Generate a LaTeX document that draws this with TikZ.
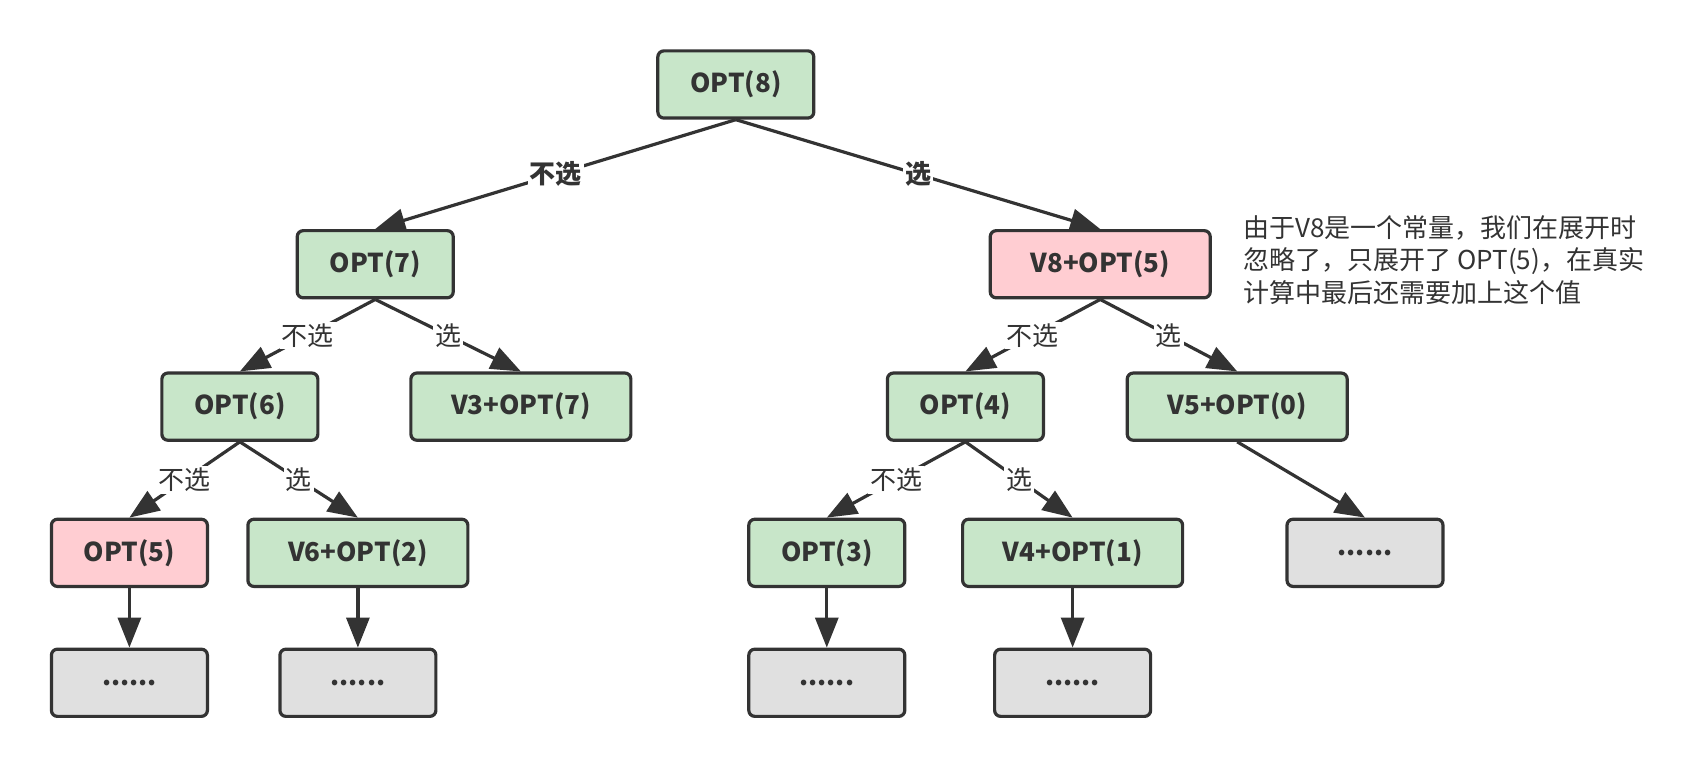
\documentclass[tikz,border=0pt]{standalone}
\usepackage{fontspec}
\setmainfont{Noto Sans CJK SC}
\usetikzlibrary{arrows.meta}
\definecolor{boxgreen}{HTML}{C8E6C9}
\definecolor{boxpink}{HTML}{FFCDD2}
\definecolor{boxgray}{HTML}{E0E0E0}
\definecolor{linedark}{HTML}{333333}
\tikzset{
  optbox/.style={draw=linedark, line width=1.6pt, rounded corners=3pt, fill=boxgreen,
    minimum width=78pt, minimum height=33.6pt, font=\fontsize{13pt}{15pt}\selectfont\bfseries, text=linedark},
  widebox/.style={optbox, minimum width=110pt},
  skipbox/.style={optbox, fill=boxpink},
  dotsbox/.style={optbox, fill=boxgray},
  branch/.style={draw=linedark, line width=1.6pt, -{Triangle[length=15pt,width=11.5pt]}},
  choice/.style={fill=white, inner sep=1pt, text=linedark, font=\fontsize{13pt}{15pt}\selectfont},
  bigchoice/.style={choice, font=\fontsize{13pt}{15pt}\selectfont\bfseries}
}

\begin{document}
\begin{tikzpicture}[x=0.5415pt, y=-0.5415pt]
  \useasboundingbox (0,0) rectangle (1568,709.2);
  \node[optbox]  (opt8)  at (679.5,78)   {OPT(8)};
  \node[optbox]  (opt7)  at (346.5,244)  {OPT(7)};
  \node[widebox, fill=boxpink] (v8) at (1016,244) {V8+OPT(5)};
  \node[optbox]  (opt6)  at (221.5,375.5) {OPT(6)};
  \node[widebox] (v3)    at (481,375.5)  {V3+OPT(7)};
  \node[optbox]  (opt4)  at (891.5,375.5) {OPT(4)};
  \node[widebox] (v5)    at (1142.5,375.5) {V5+OPT(0)};
  \node[skipbox] (opt5)  at (119.5,510.5) {OPT(5)};
  \node[widebox] (v6)    at (330.5,510.5) {V6+OPT(2)};
  \node[optbox]  (opt3)  at (763.5,510.5) {OPT(3)};
  \node[widebox] (v4)    at (990.5,510.5) {V4+OPT(1)};
  \node[dotsbox] (dots5) at (1260.5,510.5) {......};
  \node[dotsbox] (dots1) at (119.5,630.5) {......};
  \node[dotsbox] (dots2) at (330.5,630.5) {......};
  \node[dotsbox] (dots3) at (763.5,630.5) {......};
  \node[dotsbox] (dots4) at (990.5,630.5) {......};

  \draw[branch] (opt8.south) -- node[bigchoice] {不选} (opt7.north);
  \draw[branch] (opt8.south) -- node[bigchoice] {选} (v8.north);
  \draw[branch] (opt7.south) -- node[choice] {不选} (opt6.north);
  \draw[branch] (opt7.south) -- node[choice] {选} (v3.north);
  \draw[branch] (v8.south) -- node[choice] {不选} (opt4.north);
  \draw[branch] (v8.south) -- node[choice] {选} (v5.north);
  \draw[branch] (opt6.south) -- node[choice] {不选} (opt5.north);
  \draw[branch] (opt6.south) -- node[choice] {选} (v6.north);
  \draw[branch] (opt4.south) -- node[choice] {不选} (opt3.north);
  \draw[branch] (opt4.south) -- node[choice] {选} (v4.north);
  \draw[branch] (v5.south) -- (dots5.north);
  \draw[branch] (opt5) -- (dots1);
  \draw[branch] (v6) -- (dots2);
  \draw[branch] (opt3) -- (dots3);
  \draw[branch] (v4) -- (dots4);

  \node[anchor=west, align=left, inner sep=0pt, text=linedark,
    font=\fontsize{13pt}{16.2pt}\selectfont] (note) at (1148,240)
    {由于V8是一个常量，我们在展开时\\忽略了，只展开了 OPT(5)，在真实\\计算中最后还需要加上这个值};
\end{tikzpicture}
\end{document}
